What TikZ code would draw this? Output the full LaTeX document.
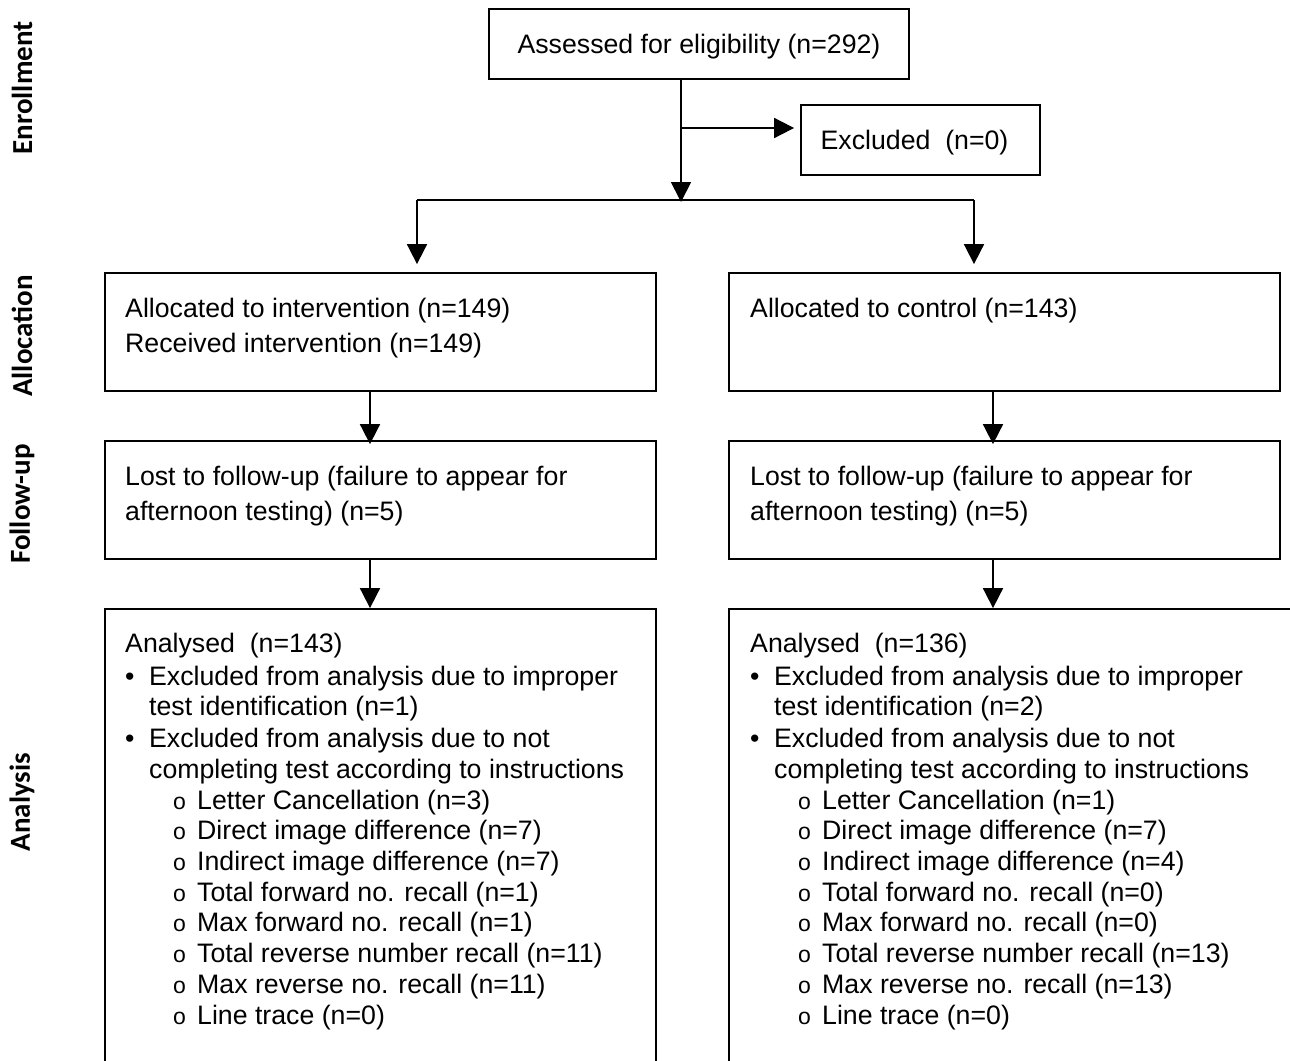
\documentclass[tikz,border=0pt]{standalone}
\usepackage{fontspec}
\setmainfont{Liberation Sans}
\newfontfamily\labelfont{Carlito}
\usetikzlibrary{arrows.meta}
\newcommand\lbul{\makebox[24pt][l]{•}}
\newcommand\lcont{\hspace*{24pt}}
\newcommand\lsub{\hspace*{48pt}\makebox[24pt][l]{\fontsize{23}{23}\selectfont o}}

\begin{document}
\begin{tikzpicture}[x=1pt,y=-1pt,line join=miter,
  box/.style={draw,line width=1.8pt,inner sep=0pt},
  head/.style={box,minimum height=70pt,text height=24pt,font=\fontsize{26.7}{35}\selectfont},
  link/.style={line width=1.8pt},
  arr/.style={line width=1.8pt,-{Triangle[length=20pt,width=20pt]}},
  txt/.style={anchor=base west,inner sep=0pt,align=left,font=\fontsize{26.7}{35}\selectfont},
  list/.style={txt,font=\fontsize{26.7}{30.7}\selectfont},
  phase/.style={rotate=90,inner sep=0pt,font=\labelfont\bfseries\fontsize{29}{30}\selectfont}]
\path[use as bounding box,clip] (0,0) rectangle (1290,1060);

\coordinate (split)  at (681,200);
\coordinate (branch) at (681,128);
\coordinate (lsplit) at (417,200);
\coordinate (rsplit) at (974,200);
\coordinate (lcol)   at (370,0);
\coordinate (rcol)   at (993,0);

% Boxes.
\node[head,minimum width=420pt] (assess) at (699,44) {Assessed for eligibility (n=292)};
\node[head,minimum width=239pt] (excl) at (920.5,140) {Excluded~~(n=0)\hspace*{12pt}};
\node[box,minimum width=551pt,minimum height=118pt] (allocI) at (380.5,332) {};
\node[box,minimum width=551pt,minimum height=118pt] (allocC) at (1004.5,332) {};
\node[box,minimum width=551pt,minimum height=118pt] (lostI)  at (380.5,500) {};
\node[box,minimum width=551pt,minimum height=118pt] (lostC)  at (1004.5,500) {};
\node[box,minimum width=551pt,minimum height=500pt]  (anaI)  at (380.5,859) {};
\node[box,minimum width=600pt,minimum height=500pt]  (anaC)  at (1029,859) {};

% Connectors.
\draw[arr] (assess.south -| split) -- ([yshift=-2pt]split);
\draw[arr,shorten >=6pt] (branch) -- (branch -| excl.west);
\draw[link] (lsplit) -- (rsplit);
\draw[arr,shorten >=8pt] (lsplit) -- (lsplit |- allocI.north);
\draw[arr,shorten >=8pt] (rsplit) -- (rsplit |- allocC.north);
\draw[arr] (allocI.south -| lcol) -- ([yshift=-4pt]lostI.north -| lcol);
\draw[arr] (allocC.south -| rcol) -- ([yshift=-4pt]lostC.north -| rcol);
\draw[arr] (lostI.south -| lcol) -- (anaI.north -| lcol);
\draw[arr] (lostC.south -| rcol) -- (anaC.north -| rcol);

% Box texts (base = baseline of the last line).
\node[txt] (tAllocI) at (125,352) {Allocated to intervention (n=149)\\Received intervention (n=149)};
\node[txt] (tAllocC) at (750,317) {Allocated to control (n=143)};
\node[txt] (tLostI) at (125,520) {Lost to follow-up (failure to appear for\\afternoon testing) (n=5)};
\node[txt] (tLostC) at (750,520) {Lost to follow-up (failure to appear for\\afternoon testing) (n=5)};
\node[list] (tAnaI) at (125,1024) {Analysed~~(n=143)\\[2.3pt]
  \lbul Excluded from analysis due to improper\\
  \lcont test identification (n=1)\\[1.3pt]
  \lbul Excluded from analysis due to not\\
  \lcont completing test according to instructions\\
  \lsub Letter Cancellation (n=3)\\
  \lsub Direct image difference (n=7)\\
  \lsub Indirect image difference (n=7)\\
  \lsub Total forward no. recall (n=1)\\
  \lsub Max forward no. recall (n=1)\\
  \lsub Total reverse number recall (n=11)\\
  \lsub Max reverse no. recall (n=11)\\
  \lsub Line trace (n=0)};
\node[list] (tAnaC) at (750,1024) {Analysed~~(n=136)\\[2.3pt]
  \lbul Excluded from analysis due to improper\\
  \lcont test identification (n=2)\\[1.3pt]
  \lbul Excluded from analysis due to not\\
  \lcont completing test according to instructions\\
  \lsub Letter Cancellation (n=1)\\
  \lsub Direct image difference (n=7)\\
  \lsub Indirect image difference (n=4)\\
  \lsub Total forward no. recall (n=0)\\
  \lsub Max forward no. recall (n=0)\\
  \lsub Total reverse number recall (n=13)\\
  \lsub Max reverse no. recall (n=13)\\
  \lsub Line trace (n=0)};

% Phase labels.
\node[phase] (pEnrol) at (22,88)  {Enrollment};
\node[phase] (pAlloc) at (22,336) {Allocation};
\node[phase] (pFollow) at (22,504) {Follow-up};
\node[phase] (pAnaly) at (22,802) {Analysis};
\end{tikzpicture}
\end{document}
